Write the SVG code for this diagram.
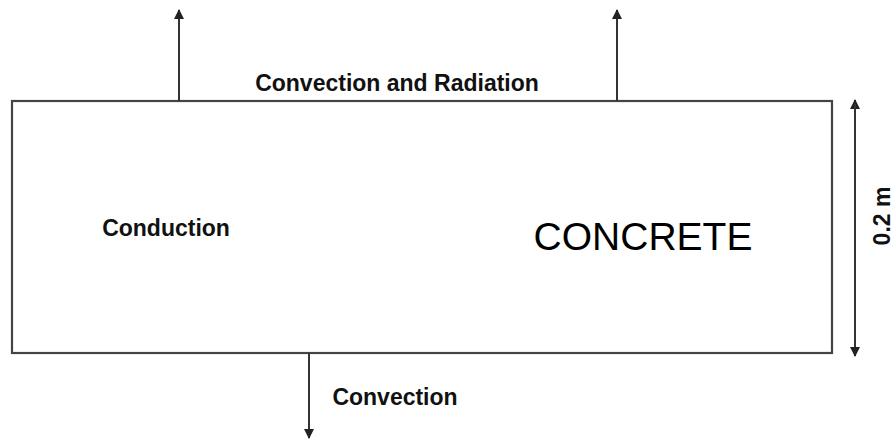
<svg xmlns="http://www.w3.org/2000/svg" width="894" height="442" viewBox="0 0 894 442">
<defs>
<marker id="ah" viewBox="0 0 10 10" refX="9" refY="5" markerWidth="5" markerHeight="5" orient="auto-start-reverse" markerUnits="strokeWidth">
<path d="M0,0 L10,5 L0,10 Z" fill="#222"/>
</marker>
<style>
.lbl{font-family:"Liberation Sans",Arial,sans-serif;font-weight:bold;font-size:23px;fill:#111}
.big{font-family:"Liberation Sans",Arial,sans-serif;font-size:39px;fill:#000}
.conn{stroke:#333;stroke-width:2;fill:none;marker-end:url(#ah)}
</style>
</defs>
<rect width="894" height="442" fill="#fff"/>
<g id="concrete">
<rect x="12" y="101" width="820" height="252" fill="#fff" stroke="#444" stroke-width="2.2"/>
<text class="big" x="643" y="250" text-anchor="middle">CONCRETE</text>
<text class="lbl" x="166" y="236" text-anchor="middle">Conduction</text>
</g>
<g id="connectors">
<line class="conn" x1="179" y1="101" x2="179" y2="10"/>
<line class="conn" x1="617" y1="101" x2="617" y2="10"/>
<line class="conn" x1="309" y1="353" x2="309" y2="438"/>
<line class="conn" x1="855" y1="120" x2="855" y2="100" style="marker-end:url(#ah)"/>
<line x1="855" y1="104" x2="855" y2="351" stroke="#333" stroke-width="2"/>
<line class="conn" x1="855" y1="340" x2="855" y2="356"/>
</g>
<g id="labels">
<text class="lbl" x="397" y="91" text-anchor="middle">Convection and Radiation</text>
<text class="lbl" x="395" y="405" text-anchor="middle">Convection</text>
<text class="lbl" transform="translate(890,216) rotate(-90)" text-anchor="middle">0.2 m</text>
</g>
</svg>
